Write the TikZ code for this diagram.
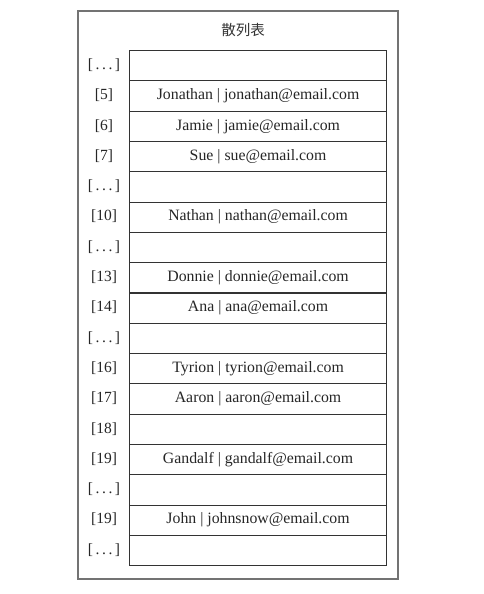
\documentclass[tikz,border=0pt]{standalone}
\usepackage{fontspec}
\setmainfont{Liberation Serif}
\newfontfamily\cjk{Noto Sans CJK SC}
\begin{document}
\begin{tikzpicture}[x=1pt,y=-1pt,
  frame/.style={draw=black!55,line width=1.3pt},
  cell/.style={draw=black!80,line width=1.1pt,minimum width=257pt,minimum height=30.3pt,inner sep=0pt,anchor=north west},
  idx/.style={text=black!85,font=\fontsize{15.5}{15.5}\selectfont},
  entry/.style={text=black!85,font=\fontsize{15.8}{15.8}\selectfont}]
\useasboundingbox (0,0) rectangle (483,594);
\fill[white] (0,0) rectangle (483,594);
% outer frame
\draw[frame] (78,11) rectangle (398,579);
\node[text=black!80,font=\cjk\fontsize{14.5}{14.5}\selectfont] (title) at (243,30) {散列表};
% table rows: index label and cell text
\foreach \i/\lab/\txt in {
  0/{[\,.\,.\,.\,]}/{},
  1/{[5]}/{Jonathan | jonathan@email.com},
  2/{[6]}/{Jamie | jamie@email.com},
  3/{[7]}/{Sue | sue@email.com},
  4/{[\,.\,.\,.\,]}/{},
  5/{[10]}/{Nathan | nathan@email.com},
  6/{[\,.\,.\,.\,]}/{},
  7/{[13]}/{Donnie | donnie@email.com},
  8/{[14]}/{Ana | ana@email.com},
  9/{[\,.\,.\,.\,]}/{},
  10/{[16]}/{Tyrion | tyrion@email.com},
  11/{[17]}/{Aaron | aaron@email.com},
  12/{[18]}/{},
  13/{[19]}/{Gandalf | gandalf@email.com},
  14/{[\,.\,.\,.\,]}/{},
  15/{[19]}/{John | johnsnow@email.com},
  16/{[\,.\,.\,.\,]}/{}} {
  \node[cell,entry] (row\i) at (129,{50+30.3*\i}) {\txt};
  \node[idx] (lab\i) at (104,{65.15+30.3*\i}) {\lab};
}
\end{tikzpicture}
\end{document}
